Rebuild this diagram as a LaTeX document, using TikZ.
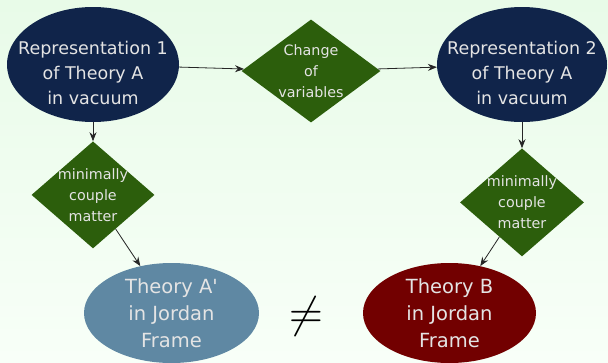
\documentclass[tikz,border=0pt]{standalone}
\usepackage{fontspec}
\setmainfont{DejaVu Sans}
\usepackage{graphicx}
\usepackage{tikz}
\usetikzlibrary{arrows.meta,positioning,shapes.geometric}
\definecolor{vacnavy}{HTML}{10244A}
\definecolor{stepgreen}{HTML}{2C5E0C}
\definecolor{primeblue}{HTML}{5F88A3}
\definecolor{theoryred}{HTML}{720000}
\definecolor{labelgray}{HTML}{E4E4E4}
\definecolor{bgtop}{HTML}{E8FBE8}
\definecolor{bgbottom}{HTML}{F8FFF8}
\newcommand{\vacstrut}{\rule{0pt}{30pt}}

\begin{document}
\begin{tikzpicture}[x=1pt,y=-1pt,node distance=19pt,>={Stealth[length=9pt,width=7pt,inset=3pt]}]

\tikzset{
v/.style={
    ellipse,
    fill=vacnavy,
    text=labelgray,
    inner xsep=-20pt,
    inner ysep=-6pt,
    minimum width=172pt,
    minimum height=115pt,
    align=center,
    font=\fontsize{17.5}{25}\selectfont
},
d/.style={
    diamond,
    fill=stepgreen,
    text=labelgray,
    inner sep=-14pt,
    align=center,
    font=\fontsize{14.3}{21}\selectfont
},
j/.style={
    ellipse,
    text=labelgray,
    inner sep=-4pt,
    minimum width=175pt,
    minimum height=100pt,
    align=center,
    font=\fontsize{19.5}{27}\selectfont
},
a/.style={->,line width=0.8pt,color=black!85}
}

\fill[top color=bgtop,bottom color=bgbottom] (0,0) rectangle (608,362);
\useasboundingbox (0,0) rectangle (608,362);

\node[v] (rep1) at (93,64.5) {\vacstrut Representation 1\\of Theory A\\in vacuum};
\node[d,minimum width=139pt,minimum height=103pt] (change) at (311,71) {Change\\of\\variables};
\node[v,minimum width=170pt] (rep2) at (522,64.5) {\vacstrut Representation 2\\of Theory A\\in vacuum};
\node[d,below=of rep1,minimum width=123pt,minimum height=107pt] (coupleA) {minimally\\couple\\matter};
\node[d,below=26pt of rep2,minimum width=124pt,minimum height=108pt] (coupleB) {minimally\\couple\\matter};
\node[j,fill=primeblue] (theoryA) at (171.5,313) {Theory A\textquotesingle\\in Jordan\\Frame};
\node[j,fill=theoryred,minimum width=173pt] (theoryB) at (449.5,313) {Theory B\\in Jordan\\Frame};
\node (neq) at (306,316) {\scalebox{4.4}{$\neq$}};

\draw[a] (rep1) -- (change);
\draw[a] (change) -- (rep2);
\draw[a] (rep1) -- (coupleA);
\draw[a] (rep2) -- (coupleB);
\draw[a] (coupleA) -- (theoryA);
\draw[a] (coupleB) -- (theoryB);

\end{tikzpicture}
\end{document}
